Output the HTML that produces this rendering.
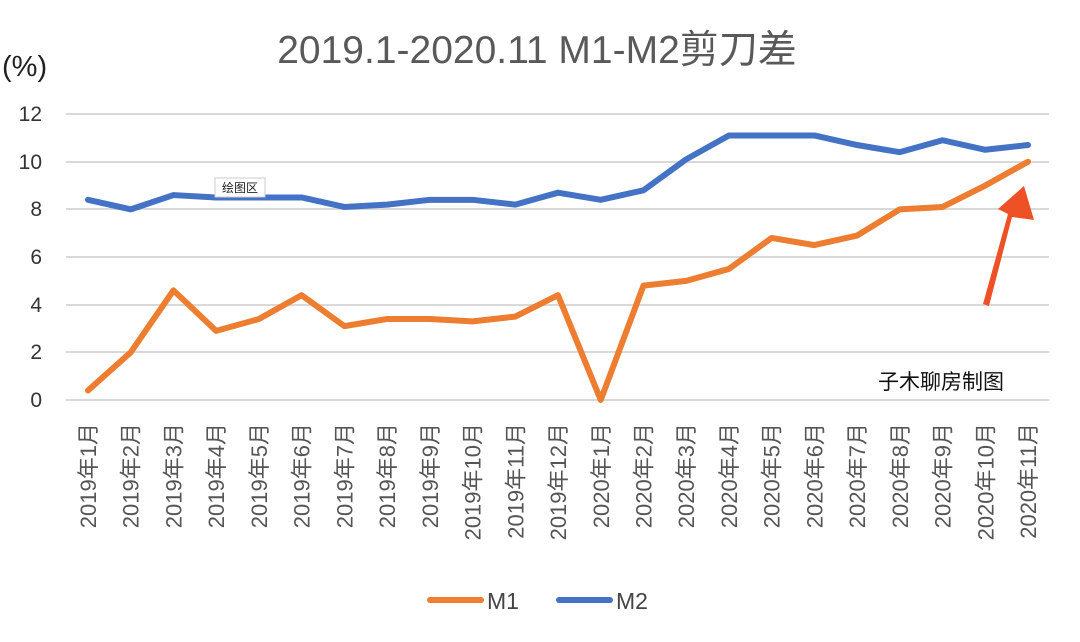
<!DOCTYPE html>
<html><head><meta charset="utf-8"><style>
body{margin:0;background:#fff;}
svg text{font-family:"Liberation Sans","Noto Sans CJK SC",sans-serif;}
</style></head><body>
<svg width="1080" height="637" viewBox="0 0 1080 637" xmlns="http://www.w3.org/2000/svg">
<rect width="1080" height="637" fill="#fff"/>
<text x="537" y="63" font-size="39" fill="#595959" text-anchor="middle">2019.1-2020.11 M1-M2剪刀差</text>
<text x="2" y="76" font-size="29" fill="#222">(%)</text>
<g stroke="#d9d9d9" stroke-width="2">
<line x1="66" x2="1049" y1="114" y2="114"/><line x1="66" x2="1049" y1="162" y2="162"/>
<line x1="66" x2="1049" y1="209" y2="209"/><line x1="66" x2="1049" y1="257" y2="257"/>
<line x1="66" x2="1049" y1="305" y2="305"/><line x1="66" x2="1049" y1="352" y2="352"/>
<line x1="66" x2="1049" y1="400" y2="400"/>
</g>
<g font-size="21" fill="#333" text-anchor="end">
<text x="42" y="121">12</text><text x="42" y="169">10</text><text x="42" y="216">8</text>
<text x="42" y="264">6</text><text x="42" y="312">4</text><text x="42" y="359">2</text><text x="42" y="407">0</text>
</g>
<g transform="translate(88,400) scale(42.727,-23.83)" fill="none" stroke-width="6" stroke-linejoin="round" stroke-linecap="round">
<polyline vector-effect="non-scaling-stroke" stroke="#4472c4" points="0,8.4 1,8.0 2,8.6 3,8.5 4,8.5 5,8.5 6,8.1 7,8.2 8,8.4 9,8.4 10,8.2 11,8.7 12,8.4 13,8.8 14,10.1 15,11.1 16,11.1 17,11.1 18,10.7 19,10.4 20,10.9 21,10.5 22,10.7"/>
<polyline vector-effect="non-scaling-stroke" stroke="#ed7d31" points="0,0.4 1,2.0 2,4.6 3,2.9 4,3.4 5,4.4 6,3.1 7,3.4 8,3.4 9,3.3 10,3.5 11,4.4 12,0 13,4.8 14,5.0 15,5.5 16,6.8 17,6.5 18,6.9 19,8.0 20,8.1 21,9.0 22,10.0"/>
</g>
<rect x="215" y="178" width="50" height="19" fill="#fff" stroke="#ccc" stroke-width="1"/>
<text x="240" y="192" font-size="12" fill="#222" text-anchor="middle">绘图区</text>
<polygon points="983,304 989,306 1012,217 1034,220 1024,186 998,209 1008,214" fill="#ee5125"/>
<text x="878" y="389" font-size="21" fill="#111">子木聊房制图</text>
<g font-size="22" fill="#555" text-anchor="end">
<text transform="translate(96,423) rotate(-90)">2019年1月</text>
<text transform="translate(138.7,423) rotate(-90)">2019年2月</text>
<text transform="translate(181.5,423) rotate(-90)">2019年3月</text>
<text transform="translate(224.2,423) rotate(-90)">2019年4月</text>
<text transform="translate(266.9,423) rotate(-90)">2019年5月</text>
<text transform="translate(309.6,423) rotate(-90)">2019年6月</text>
<text transform="translate(352.4,423) rotate(-90)">2019年7月</text>
<text transform="translate(395.1,423) rotate(-90)">2019年8月</text>
<text transform="translate(437.8,423) rotate(-90)">2019年9月</text>
<text transform="translate(480.6,423) rotate(-90)">2019年10月</text>
<text transform="translate(523.3,423) rotate(-90)">2019年11月</text>
<text transform="translate(566,423) rotate(-90)">2019年12月</text>
<text transform="translate(608.8,423) rotate(-90)">2020年1月</text>
<text transform="translate(651.5,423) rotate(-90)">2020年2月</text>
<text transform="translate(694.2,423) rotate(-90)">2020年3月</text>
<text transform="translate(736.9,423) rotate(-90)">2020年4月</text>
<text transform="translate(779.7,423) rotate(-90)">2020年5月</text>
<text transform="translate(822.4,423) rotate(-90)">2020年6月</text>
<text transform="translate(865.1,423) rotate(-90)">2020年7月</text>
<text transform="translate(907.9,423) rotate(-90)">2020年8月</text>
<text transform="translate(950.6,423) rotate(-90)">2020年9月</text>
<text transform="translate(993.3,423) rotate(-90)">2020年10月</text>
<text transform="translate(1036,423) rotate(-90)">2020年11月</text>
</g>
<line x1="430" x2="481" y1="600" y2="600" stroke="#ed7d31" stroke-width="6" stroke-linecap="round"/>
<text x="487" y="609" font-size="23" fill="#444">M1</text>
<line x1="559" x2="610" y1="600" y2="600" stroke="#4472c4" stroke-width="6" stroke-linecap="round"/>
<text x="616" y="609" font-size="23" fill="#444">M2</text>
</svg>
</body></html>
